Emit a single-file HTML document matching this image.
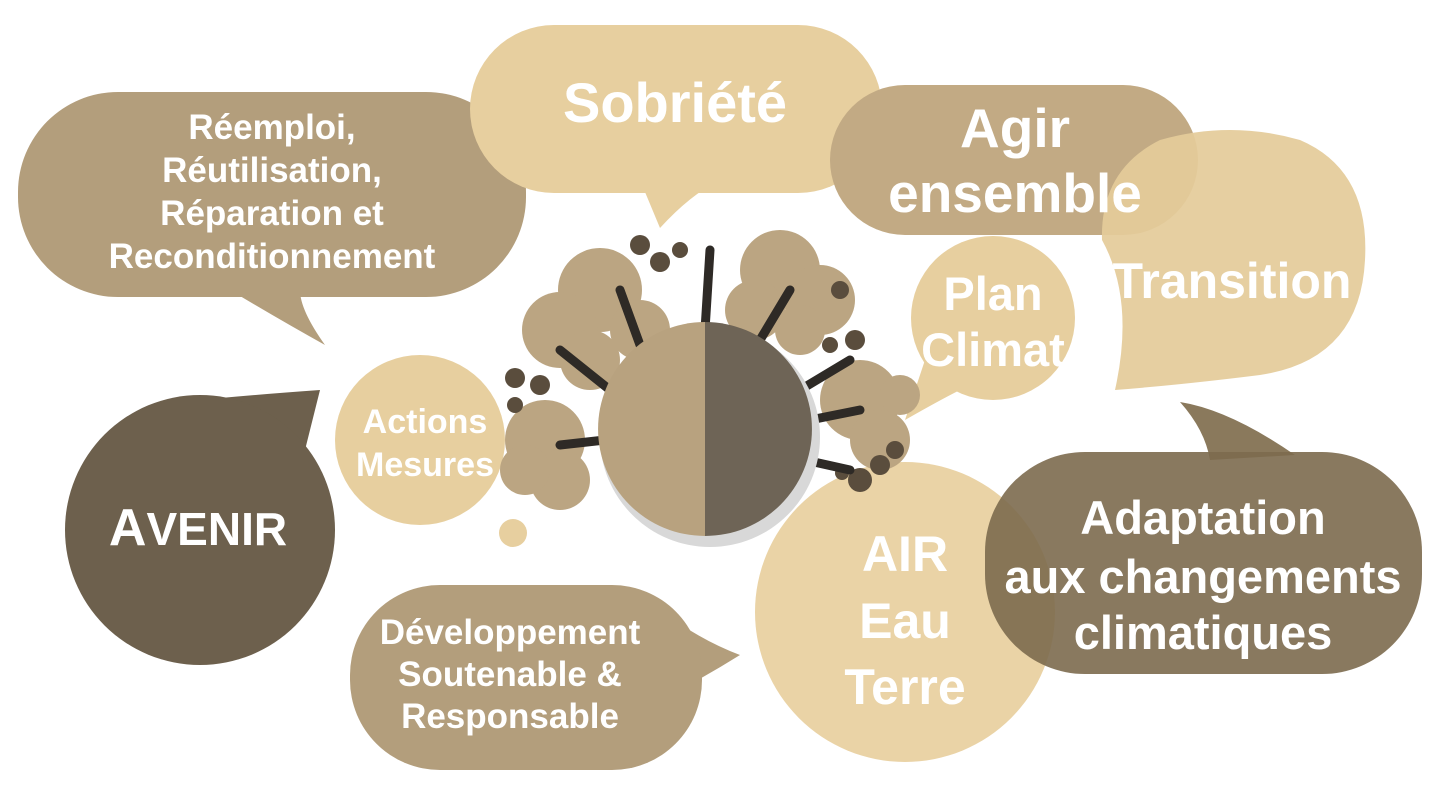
<!DOCTYPE html>
<html><head><meta charset="utf-8"><style>
html,body{margin:0;padding:0;background:#fff}
svg{display:block}
text{font-family:"Liberation Sans",sans-serif;font-weight:bold;fill:#fff;text-anchor:middle}
</style></head><body>
<svg width="1440" height="799" viewBox="0 0 1440 799">
<!-- Réemploi -->
<path d="M230 290 Q280 320 325 345 Q300 310 300 290 Z" fill="#b39e7c"/>
<rect x="18" y="92" width="508" height="205" rx="100" fill="#b39e7c"/>
<!-- Sobriété -->
<path d="M640 180 L660 228 Q690 195 720 180 Z" fill="#e7cf9f"/>
<rect x="470" y="25" width="412" height="168" rx="84" fill="#e7cf9f"/>
<!-- Agir ensemble -->
<rect x="830" y="85" width="368" height="150" rx="75" fill="#c2aa84"/>
<!-- Transition -->
<path d="M1115 390 Q1135 300 1102 240 Q1100 170 1160 140 Q1230 120 1300 140 Q1370 170 1365 260 Q1360 360 1260 375 Q1180 385 1115 390 Z" fill="#e4cb9a" opacity="0.93"/>
<!-- Plan Climat -->
<circle cx="993" cy="318" r="82" fill="#e7cf9f"/>
<path d="M925 360 L905 420 Q940 400 960 390 Z" fill="#e7cf9f"/>
<!-- Actions -->
<circle cx="420" cy="440" r="85" fill="#e7cf9f"/>
<circle cx="513" cy="533" r="14" fill="#e7cf9f"/>
<!-- Avenir -->
<path d="M320 390 Q250 395 200 400 L300 470 Z" fill="#6d604d"/>
<circle cx="200" cy="530" r="135" fill="#6d604d"/>
<!-- Développement -->
<path d="M660 610 Q700 640 740 655 Q700 680 660 700 Z" fill="#b39e7c"/>
<rect x="350" y="585" width="352" height="185" rx="90" fill="#b39e7c"/>
<!-- AIR -->
<circle cx="905" cy="612" r="150" fill="#ead3a6"/>
<!-- Adaptation -->
<path d="M1180 402 Q1230 410 1295 455 L1210 460 Q1205 430 1180 402 Z" fill="#8a795c"/>
<rect x="985" y="452" width="437" height="222" rx="100" fill="#7c6a4e" opacity="0.9"/>
<!-- Tree -->
<g fill="#bba582">
<circle cx="600" cy="290" r="42"/><circle cx="560" cy="330" r="38"/><circle cx="640" cy="330" r="30"/><circle cx="590" cy="360" r="30"/>
<circle cx="780" cy="270" r="40"/><circle cx="820" cy="300" r="35"/><circle cx="755" cy="310" r="30"/><circle cx="800" cy="330" r="25"/>
<circle cx="860" cy="400" r="40"/><circle cx="880" cy="440" r="30"/><circle cx="900" cy="395" r="20"/>
<circle cx="545" cy="440" r="40"/><circle cx="560" cy="480" r="30"/><circle cx="525" cy="470" r="25"/>
</g>
<g fill="#5a4d3d">
<circle cx="640" cy="245" r="10"/><circle cx="660" cy="262" r="10"/><circle cx="680" cy="250" r="8"/>
<circle cx="515" cy="378" r="10"/><circle cx="515" cy="405" r="8"/><circle cx="540" cy="385" r="10"/>
<circle cx="840" cy="290" r="9"/><circle cx="855" cy="340" r="10"/><circle cx="830" cy="345" r="8"/>
<circle cx="860" cy="480" r="12"/><circle cx="880" cy="465" r="10"/><circle cx="895" cy="450" r="9"/><circle cx="842" cy="473" r="7"/>
</g>
<g stroke="#2e2a26" stroke-width="9" stroke-linecap="round" fill="none">
<path d="M705 330 L710 250"/><path d="M640 345 L620 290"/><path d="M760 340 L790 290"/>
<path d="M610 390 L560 350"/><path d="M800 390 L850 360"/><path d="M605 440 L560 445"/><path d="M810 420 L860 410"/><path d="M805 460 L850 470"/>
</g>
<circle cx="710" cy="437" r="110" fill="#d8d8d8"/>
<path d="M705 322 A107 107 0 0 0 705 536 Z" fill="#b8a27f"/>
<path d="M705 322 A107 107 0 0 1 705 536 Z" fill="#6e6456"/>
<!-- Text -->
<g font-size="35">
<text x="272" y="139">Réemploi,</text>
<text x="272" y="182">Réutilisation,</text>
<text x="272" y="225">Réparation et</text>
<text x="272" y="268">Reconditionnement</text>
</g>
<text x="675" y="122" font-size="56">Sobriété</text>
<text x="1015" y="147" font-size="55">Agir</text>
<text x="1015" y="212" font-size="55">ensemble</text>
<text x="1232" y="298" font-size="50">Transition</text>
<text x="993" y="310" font-size="47">Plan</text>
<text x="993" y="366" font-size="47">Climat</text>
<text x="425" y="433" font-size="34">Actions</text>
<text x="425" y="476" font-size="34">Mesures</text>
<text x="198" y="545" font-size="52">A<tspan font-size="46">VENIR</tspan></text>
<g font-size="35">
<text x="510" y="644">Développement</text>
<text x="510" y="686">Soutenable &amp;</text>
<text x="510" y="728">Responsable</text>
</g>
<g font-size="50">
<text x="905" y="571">AIR</text>
<text x="905" y="638">Eau</text>
<text x="905" y="704">Terre</text>
</g>
<g font-size="47">
<text x="1203" y="534">Adaptation</text>
<text x="1203" y="593">aux changements</text>
<text x="1203" y="649">climatiques</text>
</g>
</svg>
</body></html>
